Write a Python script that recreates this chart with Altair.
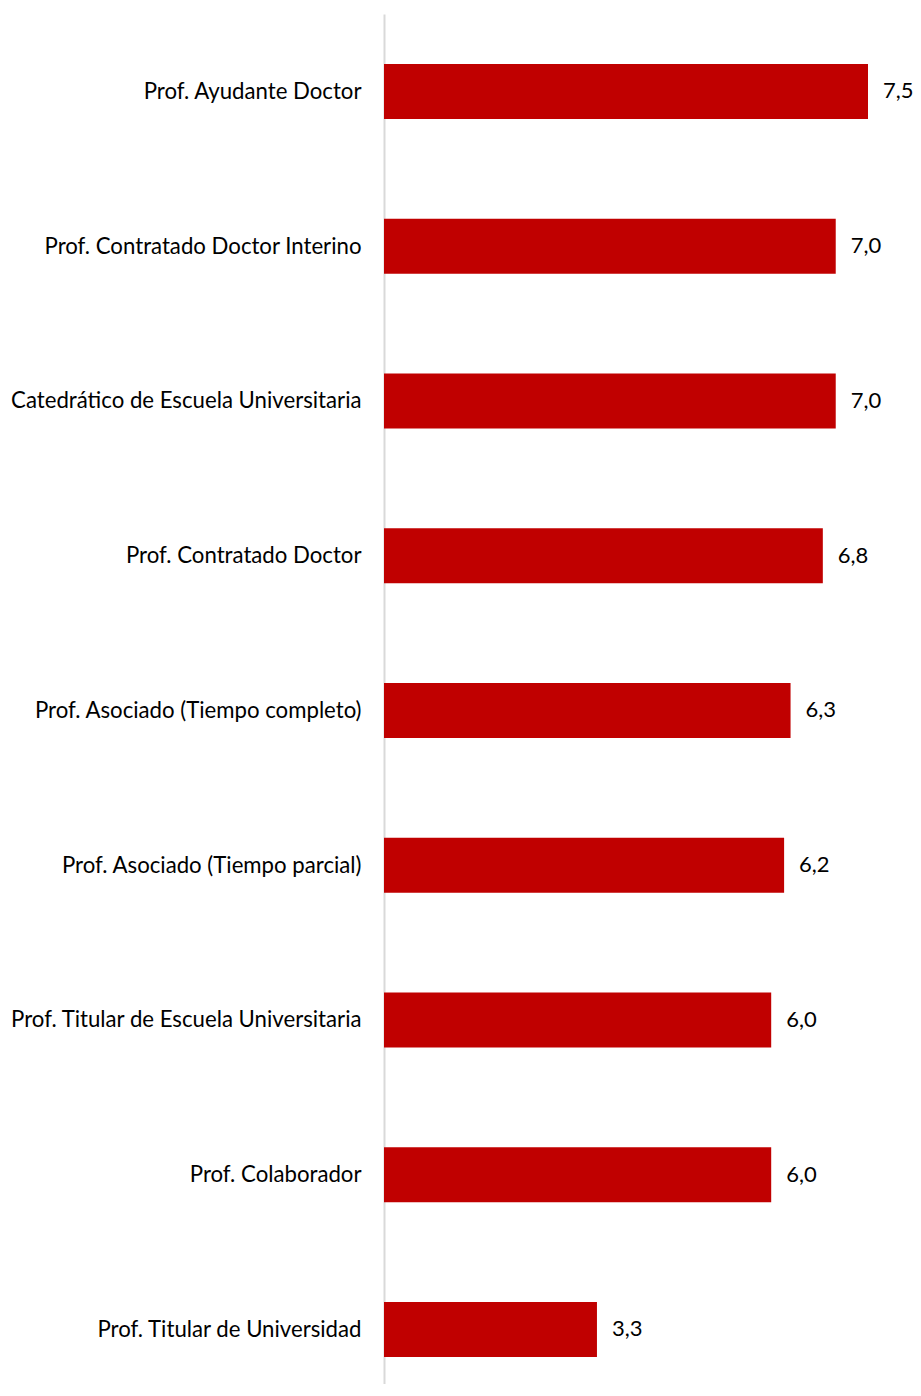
import altair as alt
import pandas as pd

categories = [
    "Prof. Ayudante Doctor",
    "Prof. Contratado Doctor Interino",
    "Catedrático de Escuela Universitaria",
    "Prof. Contratado Doctor",
    "Prof. Asociado (Tiempo completo)",
    "Prof. Asociado (Tiempo parcial)",
    "Prof. Titular de Escuela Universitaria",
    "Prof. Colaborador",
    "Prof. Titular de Universidad",
]
values = [7.5, 7.0, 7.0, 6.8, 6.3, 6.2, 6.0, 6.0, 3.3]

df = pd.DataFrame({"cat": categories, "val": values, "idx": list(range(len(categories)))})
df["lbl"] = [f"{v:.1f}".replace(".", ",") for v in values]

FONT = "Lato"
PLOT_H = 1370
STEP = 154.75
y_end = PLOT_H / STEP - 0.5

label_array = "[" + ",".join("'" + c + "'" for c in categories) + "]"

y = alt.Y(
    "idx:Q",
    title=None,
    scale=alt.Scale(domain=[-0.5, y_end], reverse=True, nice=False, zero=False, padding=0),
    axis=alt.Axis(
        values=list(range(len(categories))),
        labelExpr=label_array + "[datum.value]",
        ticks=False,
        grid=False,
        domainColor="#d9d9d9",
        domainWidth=2,
        labelPadding=23,
        labelFontSize=22.2,
        labelFont=FONT,
        labelColor="#000000",
        labelLimit=400,
        labelOverlap=False,
        labelFlush=False,
    ),
)
x = alt.X("val:Q", title=None, scale=alt.Scale(domain=[0, 7.5], nice=False, zero=True, padding=0), axis=None)

bars = alt.Chart(df).mark_bar(color="#C00000", size=55, orient="horizontal").encode(
    x=x, x2=alt.datum(0), y=y
)
text = alt.Chart(df).mark_text(
    align="left", baseline="middle", dx=15, fontSize=22, font=FONT, color="#000000"
).encode(x=x, y=y, text="lbl:N")

chart = (
    alt.layer(bars, text)
    .properties(
        width=484,
        height=PLOT_H,
        autosize=alt.AutoSizeParams(type="none"),
        padding={"left": 376, "top": 6, "right": 45, "bottom": 0},
    )
    .configure(background="white")
    .configure_view(stroke=None, strokeWidth=0)
)

chart.save("out.html", embed_options={"renderer": "svg", "actions": False})
